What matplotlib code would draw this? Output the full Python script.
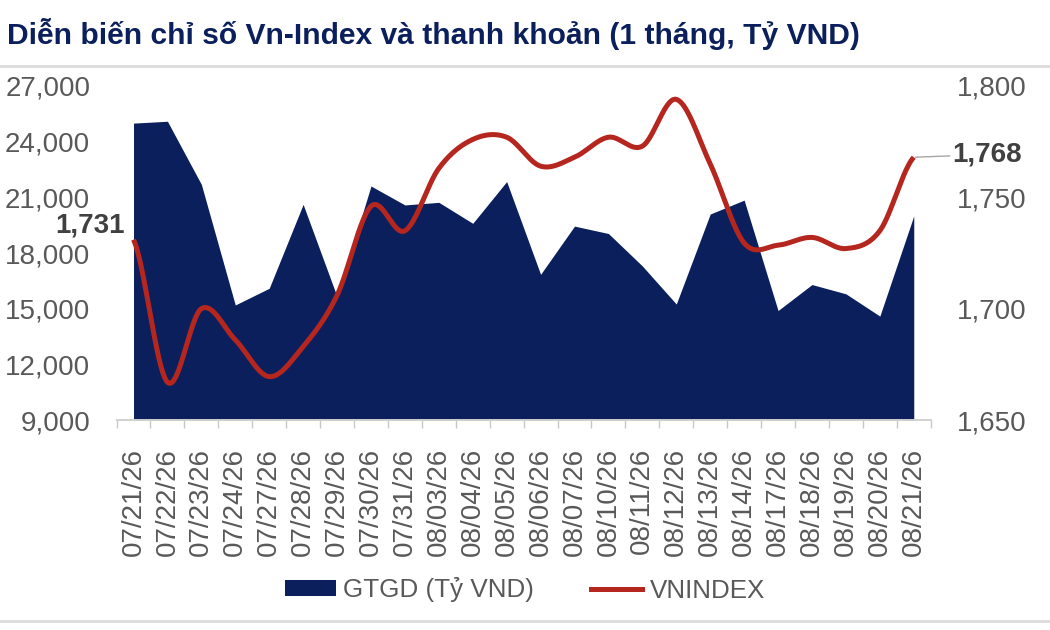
import numpy as np
import matplotlib.pyplot as plt
from matplotlib.patches import Patch
from matplotlib.lines import Line2D
from matplotlib.ticker import FuncFormatter, FixedLocator

plt.rcParams['font.family'] = ['Liberation Sans', 'DejaVu Sans']

# data
dates = ['07/21/26', '07/22/26', '07/23/26', '07/24/26', '07/27/26', '07/28/26',
         '07/29/26', '07/30/26', '07/31/26', '08/03/26', '08/04/26', '08/05/26',
         '08/06/26', '08/07/26', '08/10/26', '08/11/26', '08/12/26', '08/13/26',
         '08/14/26', '08/17/26', '08/18/26', '08/19/26', '08/20/26', '08/21/26']
gtgd = [25000, 25100, 21700, 15200, 16100, 20620, 15650, 21610, 20590, 20730,
        19600, 21850, 16850, 19450, 19050, 17300, 15250, 20100, 20850, 14900,
        16300, 15800, 14600, 20000]
vnindex = [1731, 1667, 1700, 1686, 1669.5, 1683, 1706, 1746, 1735, 1763,
           1776, 1777, 1764, 1768, 1777, 1773, 1794, 1765, 1729.5, 1728.5,
           1732, 1727, 1735, 1768]

NAVY = '#0b1f5c'
RED = '#b5261e'
GRAY_TXT = '#595959'


def smooth(y, steps=40):
    # Excel-like smoothed line (Catmull-Rom as cubic Bezier)
    y = np.asarray(y, float)
    p = np.concatenate([[y[0]], y, [y[-1]]])
    t = np.linspace(0, 1, steps, endpoint=False)
    xs, ys = [], []
    for i in range(len(y) - 1):
        p0, p1, p2, p3 = p[i], p[i + 1], p[i + 2], p[i + 3]
        c1 = p1 + (p2 - p0) / 6
        c2 = p2 - (p3 - p1) / 6
        b = (1 - t) ** 3 * p1 + 3 * (1 - t) ** 2 * t * c1 + 3 * (1 - t) * t ** 2 * c2 + t ** 3 * p2
        xs.append(i + t)
        ys.append(b)
    xs.append([len(y) - 1])
    ys.append([y[-1]])
    return np.concatenate(xs), np.concatenate(ys)


fig = plt.figure(figsize=(10.5, 6.3), dpi=100)
ax = fig.add_axes([0.111, 0.3333, 0.7754, 0.5302])
ax2 = ax.twinx()

x = np.arange(len(dates))
ax.fill_between(x, gtgd, 9000, color=NAVY, linewidth=0)
sx, sy = smooth(vnindex)
ax2.plot(sx, sy, color=RED, linewidth=3.6, solid_capstyle='butt')

ax.set_xlim(-0.5, len(dates) - 0.5)
ax.set_ylim(9000, 27000)
ax.set_yticks(range(9000, 27001, 3000))
ax2.set_ylim(1650, 1800)
ax2.set_yticks(range(1650, 1801, 50))
fmt = FuncFormatter(lambda v, p: f'{v:,.0f}')
ax.yaxis.set_major_formatter(fmt)
ax2.yaxis.set_major_formatter(fmt)

for a in (ax, ax2):
    for s in ('top', 'left', 'right'):
        a.spines[s].set_visible(False)
    a.spines['bottom'].set_color('#d0d0d0')
    a.spines['bottom'].set_linewidth(1.2)
    a.tick_params(axis='y', length=0, labelsize=20, colors=GRAY_TXT, pad=19)

ax.set_xticks(x)
ax.set_xticklabels(dates, rotation=90)
ax.xaxis.set_minor_locator(FixedLocator(np.arange(-0.5, len(dates), 1)))
ax.tick_params(axis='x', which='major', length=0, labelsize=20, colors=GRAY_TXT, pad=20)
ax.tick_params(axis='x', which='minor', length=6, width=1, color='#c8c8c8', direction='out')

ax2.annotate('1,731', xy=(0, vnindex[0]), xytext=(-6, 10), textcoords='offset points',
             ha='right', va='center', fontsize=20, fontweight='bold', color='#404040')
ax2.annotate('1,768', xy=(len(dates) - 1, vnindex[-1]), xytext=(28, 2), textcoords='offset points',
             ha='left', va='center', fontsize=20, fontweight='bold', color='#404040',
             arrowprops=dict(arrowstyle='-', color='#a6a6a6', lw=1, shrinkA=0, shrinkB=1))

fig.text(0.0067, 1 - 44 / 630, 'Diễn biến chỉ số Vn-Index và thanh khoản (1 tháng, Tỷ VND)',
         fontsize=21.6, fontweight='bold', color=NAVY, va='baseline', ha='left')

fig.add_artist(Line2D([0, 1], [1 - 66 / 630] * 2, transform=fig.transFigure, color='#dcdcdc', lw=2))
fig.add_artist(Line2D([0, 1], [1 - 620.5 / 630] * 2, transform=fig.transFigure, color='#dcdcdc', lw=2))

handles = [Patch(facecolor=NAVY, edgecolor='none'), Line2D([], [], color=RED, lw=3.6)]
fig.legend(handles, ['GTGD (Tỷ VND)', 'VNINDEX'], loc='center', bbox_to_anchor=(0.5, 1 - 590 / 630),
           ncol=2, frameon=False, fontsize=18.7, handlelength=1.95, handleheight=0.55,
           handletextpad=0.3, columnspacing=2.2, labelcolor=GRAY_TXT)

fig.savefig('out.png', dpi=100)
